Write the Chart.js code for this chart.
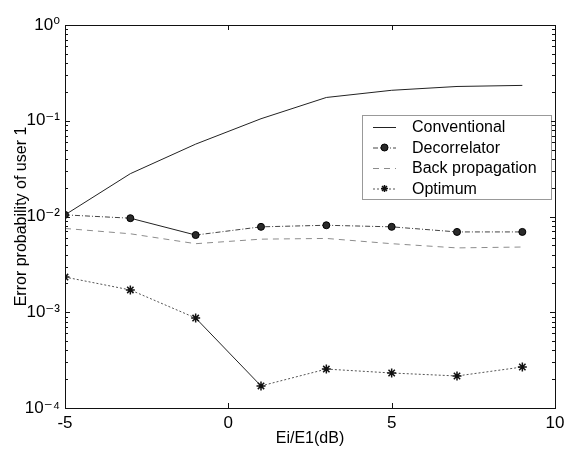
<!DOCTYPE html>
<html><head><meta charset="utf-8">
<script src="https://cdn.jsdelivr.net/npm/chart.js@4/dist/chart.umd.min.js"></script>
<style>html,body{margin:0;padding:0;background:#fff}#wrap{width:570px;height:457px;position:relative}</style>
</head><body><div id="wrap"><canvas id="c"></canvas></div>
<script>
// ---- data ----
const snr = [-5, -3, -1, 1, 3, 5, 7, 9];                     // Ei/E1 (dB)
const conventional = [0.0104, 0.028, 0.057, 0.105, 0.175, 0.208, 0.228, 0.234];
const decorrelator = [0.0104, 0.0096, 0.0064, 0.0078, 0.0081, 0.0078, 0.0069, 0.0069];
const backPropagation = [0.0075, 0.0066, 0.0052, 0.0058, 0.0059, 0.0052, 0.0047, 0.0048];
const optimum = [0.00233, 0.00171, 0.00087, 0.00017, 0.000255, 0.000232, 0.000216, 0.000268];
const seriesNames = ['Conventional', 'Decorrelator', 'Back propagation', 'Optimum'];
const xTicks = [-5, 0, 5, 10];
const yTicks = [1e-4, 1e-3, 1e-2, 1e-1, 1];
const yTickLabels = ['10⁻⁴', '10⁻³', '10⁻²', '10⁻¹', '10⁰'];
const xTitle = 'Ei/E1(dB)';
const yTitle = 'Error probability of user 1';

const FONT = "'Liberation Sans', Arial, 'DejaVu Sans', sans-serif";
const toXY = arr => snr.map((x, i) => ({x: x, y: arr[i]}));

const styles = [
  {borderColor: '#222', borderWidth: 1, borderDash: [], pointRadius: 0, pointStyle: 'circle'},
  {borderColor: '#444', borderWidth: 1, borderDash: [5, 2, 1, 2], pointRadius: 3.5, pointStyle: 'circle',
   pointBackgroundColor: '#2a2a2a', pointBorderColor: '#000', pointBorderWidth: 1,
   segment: {borderDash: c => c.p0DataIndex === 1 ? [] : undefined,
             borderColor: c => c.p0DataIndex === 1 ? '#222' : undefined}},
  {borderColor: '#8c8c8c', borderWidth: 1, borderDash: [6, 5], pointRadius: 0, pointStyle: 'circle'},
  {borderColor: '#555', borderWidth: 1, borderDash: [2, 2], pointRadius: 4.5, pointStyle: 'star',
   pointBackgroundColor: '#111', pointBorderColor: '#111', pointBorderWidth: 1.5,
   segment: {borderDash: c => c.p0DataIndex === 2 ? [] : undefined,
             borderColor: c => c.p0DataIndex === 2 ? '#222' : undefined}}
];
const seriesData = [conventional, decorrelator, backPropagation, optimum];

const datasets = seriesNames.map((name, i) => Object.assign({
  label: name, data: toXY(seriesData[i]), fill: false, tension: 0,
  pointHoverRadius: 4
}, styles[i]));

// frame, inward ticks (incl. log minor ticks)
const framePlugin = {
  id: 'frame',
  afterDatasetsDraw(chart) {
    const {ctx, chartArea: a, scales: {x, y}} = chart;
    ctx.save();
    ctx.strokeStyle = '#111';
    ctx.lineWidth = 1;
    ctx.setLineDash([]);
    ctx.strokeRect(a.left + 0.5, a.top + 0.5, a.right - a.left, a.bottom - a.top);
    ctx.beginPath();
    xTicks.forEach(v => {
      const px = Math.round(x.getPixelForValue(v)) + 0.5;
      ctx.moveTo(px, a.bottom); ctx.lineTo(px, a.bottom - 5);
      ctx.moveTo(px, a.top); ctx.lineTo(px, a.top + 5);
    });
    yTicks.forEach(v => {
      const py = Math.round(y.getPixelForValue(v)) + 0.5;
      ctx.moveTo(a.left, py); ctx.lineTo(a.left + 5, py);
      ctx.moveTo(a.right, py); ctx.lineTo(a.right - 5, py);
    });
    for (let d = 0; d < yTicks.length - 1; d++) {
      for (let m = 2; m <= 9; m++) {
        const py = Math.round(y.getPixelForValue(yTicks[d] * m)) + 0.5;
        ctx.moveTo(a.left, py); ctx.lineTo(a.left + 3, py);
        ctx.moveTo(a.right, py); ctx.lineTo(a.right - 3, py);
      }
    }
    ctx.stroke();
    ctx.restore();
  }
};

// legend box inside the plot (upper right)
const legendPlugin = {
  id: 'boxLegend',
  afterDraw(chart) {
    const {ctx, chartArea: a} = chart;
    const bx = a.right - 193, by = a.top + 90, bw = 189, bh = 84;
    ctx.save();
    ctx.fillStyle = '#fff';
    ctx.fillRect(bx, by, bw, bh);
    ctx.strokeStyle = '#333';
    ctx.lineWidth = 1;
    ctx.setLineDash([1, 1]);
    ctx.strokeRect(bx + 0.5, by + 0.5, bw, bh);
    ctx.font = '16px ' + FONT;
    ctx.textBaseline = 'middle';
    chart.data.datasets.forEach((ds, i) => {
      const cy = by + 12 + i * 20.5;
      const x0 = bx + 11, x1 = bx + 34, cx = (x0 + x1) / 2;
      ctx.strokeStyle = ds.borderColor;
      ctx.lineWidth = ds.borderWidth;
      ctx.setLineDash(ds.borderDash || []);
      ctx.beginPath(); ctx.moveTo(x0, cy + 0.5); ctx.lineTo(x1, cy + 0.5); ctx.stroke();
      ctx.setLineDash([]);
      if (ds.pointRadius > 0) {
        ctx.fillStyle = ds.pointBackgroundColor;
        ctx.strokeStyle = ds.pointBorderColor;
        ctx.lineWidth = ds.pointBorderWidth;
        Chart.helpers.drawPoint(ctx, {pointStyle: ds.pointStyle, radius: 3.5, rotation: 0,
                                      borderWidth: ds.pointBorderWidth}, cx, cy);
      }
      ctx.fillStyle = '#000';
      ctx.fillText(ds.label, bx + 50, cy + 1);
    });
    ctx.restore();
  }
};

new Chart(document.getElementById('c'), {
  type: 'line',
  data: {datasets: datasets},
  options: {
    responsive: true,
    maintainAspectRatio: false,
    animation: false,
    layout: {padding: {top: 25, right: 15, left: 0, bottom: 0}},
    plugins: {legend: {display: false}, tooltip: {enabled: false}},
    scales: {
      x: {
        type: 'linear', min: -5, max: 10,
        afterBuildTicks: s => { s.ticks = xTicks.map(v => ({value: v})); },
        afterFit: s => { s.height = 49; },
        grid: {display: false, drawTicks: false},
        border: {display: false},
        ticks: {padding: 5, color: '#000', font: {family: FONT, size: 17}, maxRotation: 0},
        title: {display: true, text: xTitle, color: '#000', font: {family: FONT, size: 16},
                padding: {top: 0, bottom: 9}}
      },
      y: {
        type: 'logarithmic', min: 1e-4, max: 1,
        afterBuildTicks: s => { s.ticks = yTicks.map(v => ({value: v})); },
        afterFit: s => { s.width = 65; },
        grid: {display: false, drawTicks: false},
        border: {display: false},
        ticks: {padding: 5, color: '#000', font: {family: FONT, size: 17},
                callback: v => { const k = yTicks.indexOf(v); return k >= 0 ? yTickLabels[k] : ''; }},
        title: {display: true, text: yTitle, color: '#000', font: {family: FONT, size: 16},
                padding: {top: 12, bottom: 0}}
      }
    }
  },
  plugins: [framePlugin, legendPlugin]
});
</script>
</body></html>
